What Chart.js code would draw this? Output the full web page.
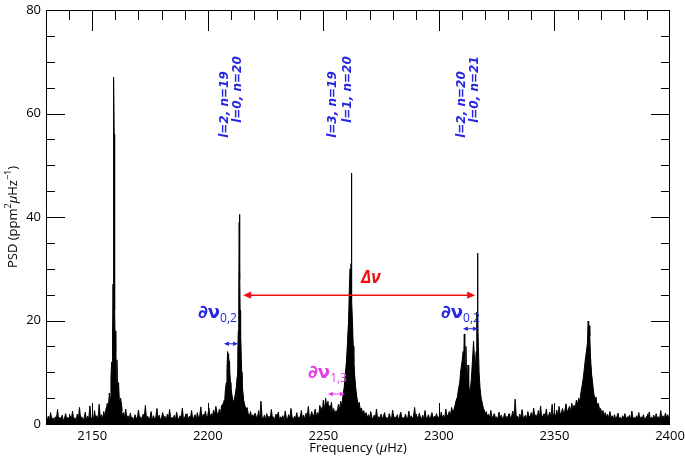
<!DOCTYPE html>
<html>
<head>
<meta charset="utf-8">
<script src="https://cdn.jsdelivr.net/npm/chart.js@4.4.1/dist/chart.umd.min.js"></script>
<style>
  html, body { margin: 0; padding: 0; background: #fff; }
</style>
</head>
<body>
<canvas id="psdChart" width="685" height="459"></canvas>
<script>
// Background noise, one value every 0.5 µHz from 2130 to 2400 (one row = 10 µHz)
const noiseStart = 2130;
const noiseStep = 0.5;
const noisePsd = [
    1.1, 0.6, 1.5, 0.8, 2.2, 0.9, 1.2, 0.5, 1.4, 1.0, 2.8, 0.7, 1.3, 0.9, 1.7, 0.6, 1.1, 2.0, 0.8, 1.3,
    0.7, 1.6, 1.0, 2.5, 0.8, 1.2, 0.6, 1.9, 1.1, 3.2, 0.9, 1.4, 0.7, 1.2, 2.3, 0.8, 1.5, 1.0, 3.5, 0.9,
    1.3, 0.7, 2.6, 1.1, 1.6, 0.8, 3.8, 1.2, 1.8, 1.0, 2.4, 1.4, 3.0, 1.8, 2.6, 3.6, 4.4, 3.2, 5.5, 7.0,
    6.0, 4.2, 3.5, 4.8, 2.4, 3.0, 1.8, 2.2, 1.4, 2.9, 1.1, 1.6, 0.8, 2.1, 1.0, 1.3, 0.7, 1.8, 1.2, 0.9,
    2.7, 1.0, 1.4, 0.7, 1.9, 1.1, 3.6, 0.8, 1.5, 1.0, 1.2, 2.4, 0.7, 1.6, 0.9, 1.3, 3.0, 1.0, 1.7, 0.8,
    1.2, 2.2, 0.9, 1.5, 0.6, 1.9, 1.1, 2.8, 0.8, 1.3, 1.0, 1.7, 0.7, 2.3, 1.2, 0.9, 1.6, 1.1, 3.1, 0.8,
    1.4, 1.0, 2.0, 0.7, 1.5, 1.2, 2.6, 0.9, 1.3, 1.8, 0.8, 2.2, 1.1, 1.5, 3.3, 1.0, 1.9, 1.4, 2.5, 1.2,
    1.6, 3.1, 1.2, 2.0, 1.4, 2.7, 1.8, 3.4, 2.2, 1.6, 2.9, 2.0, 3.6, 2.8, 4.5, 3.8, 5.8, 6.5, 8.0, 9.5,
    7.0, 5.5, 4.2, 4.8, 6.0, 7.5, 10.0, 15.0, 20.0, 12.0, 7.0, 4.5, 3.6, 2.8, 3.2, 2.0, 1.6, 2.4, 1.2, 1.8,
    1.0, 2.1, 1.4, 1.2, 2.6, 0.9, 4.4, 1.3, 1.0, 1.7, 0.8, 2.0, 1.2, 1.5, 0.9, 2.8, 1.1, 1.4, 0.7, 1.9,
    1.0, 2.3, 0.8, 1.4, 1.1, 1.6, 0.7, 2.5, 1.2, 0.9, 1.8, 1.0, 3.0, 1.3, 0.8, 1.5, 1.1, 2.2, 0.9, 1.4,
    1.2, 2.6, 1.0, 1.7, 0.8, 2.1, 1.3, 3.4, 1.1, 1.6, 2.4, 1.2, 1.9, 2.9, 1.4, 2.2, 1.6, 3.6, 2.0, 2.6,
    1.8, 3.3, 2.4, 4.0, 2.0, 3.5, 2.6, 4.2, 2.2, 3.0, 1.8, 2.6, 2.2, 3.8, 2.8, 4.4, 3.6, 5.5, 7.0, 9.5,
    12.0, 16.0, 20.0, 24.0, 22.0, 18.0, 13.0, 9.0, 6.5, 4.8, 3.6, 4.2, 2.8, 3.1, 2.0, 2.6, 1.5, 2.2, 1.2, 1.8,
    1.0, 2.4, 1.3, 0.9, 1.7, 1.1, 2.9, 0.8, 1.4, 1.2, 1.9, 0.9, 1.5, 2.2, 1.0, 1.3, 0.7, 2.0, 1.2, 1.0,
    2.7, 0.9, 1.4, 1.1, 1.8, 0.8, 1.5, 2.3, 1.0, 1.3, 0.7, 1.9, 1.2, 1.0, 2.5, 0.9, 1.6, 1.1, 1.4, 3.2,
    1.0, 1.5, 0.8, 2.1, 1.3, 1.0, 1.7, 0.9, 2.6, 1.2, 1.1, 1.8, 0.8, 1.4, 2.2, 1.0, 1.5, 1.2, 2.0, 1.1,
    1.4, 0.9, 2.3, 1.2, 1.7, 1.0, 2.9, 1.4, 1.8, 2.4, 1.6, 3.2, 2.2, 2.8, 3.6, 4.6, 5.2, 6.8, 8.0, 10.5,
    12.0, 14.0, 11.0, 9.5, 10.0, 8.0, 7.0, 6.0, 8.5, 12.0, 16.0, 12.0, 7.0, 5.0, 4.0, 3.4, 2.6, 3.0, 2.2, 2.8,
    1.8, 2.4, 1.5, 1.9, 1.2, 2.6, 1.0, 1.6, 2.0, 1.1, 1.4, 0.9, 2.3, 1.2, 1.7, 1.0, 1.3, 2.1, 0.9, 1.5,
    1.2, 2.0, 1.0, 1.6, 2.5, 1.1, 4.8, 1.3, 1.5, 1.0, 1.9, 1.2, 2.8, 1.1, 1.4, 1.7, 1.0, 2.4, 1.3, 1.6,
    2.2, 1.2, 3.1, 1.4, 1.8, 1.1, 2.6, 1.3, 3.5, 1.2, 1.6, 2.0, 1.4, 2.9, 1.1, 1.7, 2.3, 1.3, 3.8, 1.5,
    2.0, 1.4, 2.7, 1.6, 3.4, 1.8, 2.2, 3.0, 1.9, 2.6, 3.9, 2.2, 2.8, 3.4, 2.4, 4.0, 3.0, 3.6, 3.2, 4.6,
    3.8, 5.0, 4.4, 6.2, 7.5, 9.0, 11.0, 13.0, 14.5, 16.0, 15.0, 12.0, 9.5, 8.0, 6.0, 4.8, 5.2, 3.6, 4.0, 2.8,
    3.0, 2.0, 2.6, 1.6, 2.2, 1.3, 1.9, 1.1, 2.4, 1.2, 1.6, 1.0, 1.8, 0.9, 1.4, 2.1, 1.0, 1.3, 0.8, 1.6,
    1.1, 2.0, 0.9, 1.4, 1.2, 1.7, 0.8, 2.5, 1.0, 1.3, 0.9, 1.6, 1.1, 2.2, 0.8, 1.4, 1.0, 1.8, 0.7, 1.2,
    1.5, 1.0, 2.3, 0.9, 1.3, 1.1, 1.7, 0.8, 2.0, 1.2, 1.4, 0.9, 2.6, 1.1, 1.6, 1.0, 2.1, 1.3, 1.8, 1.0,
    1.4
];

// Resolved mode peaks (frequency in µHz, PSD)
const peak2159Freq = [2156.0, 2156.5, 2157.0, 2157.4, 2157.8, 2158.1, 2158.4, 2158.6, 2158.8, 2159.0, 2159.1, 2159.2, 2159.3, 2159.4, 2159.5, 2159.6, 2159.7, 2159.8, 2160.0, 2160.2, 2160.4, 2160.7, 2161.0, 2161.4, 2161.8, 2162.3, 2163.0];
const peak2159Psd  = [2.5, 4.0, 3.2, 6.0, 5.0, 9.0, 12.0, 8.0, 17.0, 27.0, 20.0, 43.0, 35.0, 67.0, 56.0, 30.0, 35.0, 22.0, 14.0, 18.0, 8.0, 12.4, 6.0, 8.0, 4.0, 5.0, 2.5];

const peak2209Freq = [2206.0, 2206.6, 2207.2, 2207.6, 2208.0, 2208.3, 2208.6, 2208.8, 2209.0, 2209.2, 2209.4, 2209.7, 2210.0, 2210.4, 2210.9, 2211.4];
const peak2209Psd  = [2.5, 4.0, 3.5, 6.5, 8.0, 10.5, 14.0, 9.0, 13.6, 11.0, 12.2, 8.0, 7.0, 5.0, 3.0, 3.8];

const peak2214Freq = [2211.8, 2212.3, 2212.7, 2213.0, 2213.2, 2213.4, 2213.6, 2213.7, 2213.8, 2213.9, 2214.0, 2214.2, 2214.5, 2214.8, 2215.2, 2215.7, 2216.3, 2217.0];
const peak2214Psd  = [3.5, 6.0, 9.0, 14.0, 18.0, 25.0, 39.0, 28.0, 40.5, 30.0, 22.0, 17.0, 10.0, 8.0, 5.5, 4.0, 3.0, 2.0];

const peak2251Freq = [2248.5, 2249.0, 2249.5, 2250.0, 2250.5, 2251.0, 2251.5, 2252.0, 2252.5, 2253.0, 2253.5];
const peak2251Psd  = [1.5, 3.2, 2.0, 4.6, 2.5, 5.0, 3.0, 4.4, 2.2, 3.6, 1.8];

const peak2262Freq = [2258.0, 2258.6, 2259.2, 2259.7, 2260.2, 2260.6, 2261.0, 2261.3, 2261.6, 2261.8, 2262.0, 2262.1, 2262.2, 2262.4, 2262.6, 2262.9, 2263.2, 2263.6, 2264.0, 2264.5, 2265.2, 2266.0];
const peak2262Psd  = [3.0, 4.5, 6.0, 8.5, 12.0, 16.0, 21.0, 27.0, 30.0, 25.0, 31.0, 48.5, 29.0, 24.0, 20.0, 15.0, 12.0, 9.0, 7.0, 5.0, 3.5, 2.4];

const peak2311Freq = [2308.5, 2309.2, 2309.8, 2310.3, 2310.7, 2311.0, 2311.2, 2311.5, 2311.7, 2312.0, 2312.3, 2312.6, 2312.9, 2313.3, 2313.7, 2314.2];
const peak2311Psd  = [2.5, 4.0, 6.5, 9.0, 12.0, 17.4, 13.0, 10.0, 15.0, 9.0, 8.0, 11.4, 7.0, 5.0, 4.0, 3.5];

const peak2317Freq = [2314.6, 2315.0, 2315.4, 2315.8, 2316.1, 2316.4, 2316.6, 2316.7, 2316.8, 2316.9, 2317.1, 2317.4, 2317.8, 2318.3, 2318.9, 2319.5, 2320.2];
const peak2317Psd  = [3.0, 5.0, 8.0, 11.0, 14.0, 21.6, 18.0, 24.0, 33.0, 20.0, 15.0, 10.0, 7.0, 5.0, 3.8, 2.5, 2.0];

const peak2365Freq = [2361.5, 2362.2, 2362.8, 2363.3, 2363.7, 2364.0, 2364.3, 2364.6, 2364.8, 2365.0, 2365.3, 2365.6, 2366.0, 2366.5, 2367.0, 2367.6, 2368.3];
const peak2365Psd  = [2.5, 3.5, 5.0, 7.5, 10.0, 13.0, 16.0, 19.9, 15.0, 19.0, 17.0, 13.0, 10.0, 7.0, 5.0, 3.5, 2.2];

// Axis ticks
const freqTicks = [2150, 2200, 2250, 2300, 2350, 2400];
const psdTicks = [0, 20, 40, 60, 80];

// Mode identification labels: [text, frequency, psd at start of text]
const modeLabels = [
    ['l=2, n=19', 2207.5, 55.3],
    ['l=0, n=20', 2213.2, 58.2],
    ['l=3, n=19', 2254.3, 55.3],
    ['l=1, n=20', 2260.8, 58.2],
    ['l=2, n=20', 2310.1, 55.3],
    ['l=0, n=21', 2315.7, 58.2]
];

const peaks = [
    [peak2159Freq, peak2159Psd], [peak2209Freq, peak2209Psd], [peak2214Freq, peak2214Psd],
    [peak2251Freq, peak2251Psd], [peak2262Freq, peak2262Psd], [peak2311Freq, peak2311Psd],
    [peak2317Freq, peak2317Psd], [peak2365Freq, peak2365Psd]
];

const BLUE = '#2626e0';
const RED = '#f01010';
const MAGENTA = '#e63ce6';

function lineSet(points) {
    return {
        data: points,
        borderColor: '#000',
        backgroundColor: '#000',
        borderWidth: 1,
        pointRadius: 0,
        tension: 0,
        fill: 'origin'
    };
}

const datasets = [lineSet(noisePsd.map((p, i) => ({ x: noiseStart + i * noiseStep, y: p })))];
peaks.forEach(([f, p]) => datasets.push(lineSet(f.map((v, i) => ({ x: v, y: p[i] })))));

// Double-headed horizontal arrow
function hArrow(ctx, x1, x2, y, color, width, head) {
    ctx.save();
    ctx.strokeStyle = color;
    ctx.fillStyle = color;
    ctx.lineWidth = width;
    ctx.beginPath();
    ctx.moveTo(x1 + head * 0.6, y);
    ctx.lineTo(x2 - head * 0.6, y);
    ctx.stroke();
    ctx.beginPath();
    ctx.moveTo(x1, y);
    ctx.lineTo(x1 + head, y - head * 0.45);
    ctx.lineTo(x1 + head, y + head * 0.45);
    ctx.closePath();
    ctx.fill();
    ctx.beginPath();
    ctx.moveTo(x2, y);
    ctx.lineTo(x2 - head, y - head * 0.45);
    ctx.lineTo(x2 - head, y + head * 0.45);
    ctx.closePath();
    ctx.fill();
    ctx.restore();
}

// "∂ν" with subscript
function deltaLabel(ctx, x, y, sub, color) {
    ctx.save();
    ctx.fillStyle = color;
    ctx.textAlign = 'left';
    ctx.textBaseline = 'alphabetic';
    ctx.font = 'bold 18px "DejaVu Sans"';
    ctx.fillText('∂ν', x, y);
    const w = ctx.measureText('∂ν').width;
    ctx.font = '12px "Open Sans"';
    ctx.fillText(sub, x + w, y + 4);
    ctx.restore();
}

const frameAndAnnotations = {
    id: 'frameAndAnnotations',
    afterDatasetsDraw(chart) {
        const { ctx, chartArea: a, scales: { x, y } } = chart;

        // frame
        ctx.save();
        ctx.strokeStyle = '#000';
        ctx.lineWidth = 1;
        ctx.strokeRect(a.left + 0.5, a.top + 0.5, a.right - a.left - 1, a.bottom - a.top);

        // inward ticks on all four sides
        ctx.beginPath();
        for (let v = 2140; v < 2400; v += 10) {
            const px = Math.round(x.getPixelForValue(v)) + 0.5;
            const len = v % 50 === 0 ? 21 : 10;
            ctx.moveTo(px, a.top); ctx.lineTo(px, a.top + len);
            ctx.moveTo(px, a.bottom); ctx.lineTo(px, a.bottom - len);
        }
        for (let v = 5; v < 80; v += 5) {
            const py = Math.round(y.getPixelForValue(v)) + 0.5;
            const len = v % 20 === 0 ? 19 : 9;
            ctx.moveTo(a.left, py); ctx.lineTo(a.left + len, py);
            ctx.moveTo(a.right, py); ctx.lineTo(a.right - len, py);
        }
        ctx.stroke();
        ctx.restore();

        // mode labels, rotated
        ctx.save();
        ctx.fillStyle = BLUE;
        ctx.font = 'italic bold 12px "DejaVu Sans"';
        ctx.textAlign = 'left';
        ctx.textBaseline = 'middle';
        modeLabels.forEach(([t, f, p]) => {
            ctx.save();
            ctx.translate(x.getPixelForValue(f), y.getPixelForValue(p));
            ctx.rotate(-Math.PI / 2);
            ctx.fillText(t, 0, 0);
            ctx.restore();
        });
        ctx.restore();

        // large separation
        hArrow(ctx, x.getPixelForValue(2215.3), x.getPixelForValue(2315.7), y.getPixelForValue(24.9), RED, 1.5, 8);
        ctx.save();
        ctx.fillStyle = RED;
        ctx.font = 'italic bold 17px "Open Sans"';
        ctx.textAlign = 'left';
        ctx.textBaseline = 'alphabetic';
        ctx.fillText('Δν', x.getPixelForValue(2266.3), y.getPixelForValue(27.3));
        ctx.restore();

        // small separations
        hArrow(ctx, x.getPixelForValue(2207.0), x.getPixelForValue(2213.1), y.getPixelForValue(15.5), BLUE, 1, 5);
        hArrow(ctx, x.getPixelForValue(2310.4), x.getPixelForValue(2316.9), y.getPixelForValue(18.4), BLUE, 1, 5);
        hArrow(ctx, x.getPixelForValue(2252.0), x.getPixelForValue(2259.4), y.getPixelForValue(5.8), MAGENTA, 1, 5);
        deltaLabel(ctx, x.getPixelForValue(2195.8), y.getPixelForValue(20.4), '0,2', BLUE);
        deltaLabel(ctx, x.getPixelForValue(2300.9), y.getPixelForValue(20.4), '0,2', BLUE);
        deltaLabel(ctx, x.getPixelForValue(2243.4), y.getPixelForValue(8.8), '1,3', MAGENTA);

        // axis titles
        ctx.save();
        ctx.fillStyle = '#000';
        ctx.textBaseline = 'middle';
        const parts = [['Frequency (', ''], ['μ', 'italic '], ['Hz)', '']];
        let total = 0;
        parts.forEach(([t, s]) => { ctx.font = s + '13px "Open Sans"'; total += ctx.measureText(t).width; });
        let cx = (a.left + a.right) / 2 - total / 2;
        ctx.textAlign = 'left';
        parts.forEach(([t, s]) => {
            ctx.font = s + '13px "Open Sans"';
            ctx.fillText(t, cx, 448);
            cx += ctx.measureText(t).width;
        });

        ctx.translate(13, (a.top + a.bottom) / 2);
        ctx.rotate(-Math.PI / 2);
        const yParts = [['PSD (ppm', '13px', 0], ['2', '9px', -5], ['μ', 'italic 13px', 0], ['Hz', '13px', 0], ['−1', '9px', -5], [')', '13px', 0]];
        total = 0;
        yParts.forEach(([t, s]) => { ctx.font = s + ' "Open Sans"'; total += ctx.measureText(t).width; });
        cx = -total / 2;
        yParts.forEach(([t, s, dy]) => {
            ctx.font = s + ' "Open Sans"';
            ctx.fillText(t, cx, dy);
            cx += ctx.measureText(t).width;
        });
        ctx.restore();
    }
};

new Chart(document.getElementById('psdChart'), {
    type: 'line',
    data: { datasets: datasets },
    options: {
        responsive: false,
        animation: false,
        events: [],
        layout: { padding: { top: 10, right: 15, left: 0, bottom: 0 } },
        plugins: { legend: { display: false }, tooltip: { enabled: false } },
        scales: {
            x: {
                type: 'linear',
                min: 2130,
                max: 2400,
                afterBuildTicks: (s) => { s.ticks = freqTicks.map(v => ({ value: v })); },
                afterFit: (s) => { s.height = 35; s.paddingLeft = 0; s.paddingRight = 0; },
                grid: { display: false, drawTicks: false },
                border: { display: false },
                ticks: { color: '#000', padding: 4, maxRotation: 0, callback: (v) => String(v), font: { family: 'Open Sans', size: 13 } }
            },
            y: {
                min: 0,
                max: 80,
                afterBuildTicks: (s) => { s.ticks = psdTicks.map(v => ({ value: v })); },
                afterFit: (s) => { s.width = 46; s.paddingTop = 0; s.paddingBottom = 0; },
                grid: { display: false, drawTicks: false },
                border: { display: false },
                ticks: { color: '#000', padding: 5, font: { family: 'Open Sans', size: 13 } }
            }
        }
    },
    plugins: [frameAndAnnotations]
});
</script>
</body>
</html>
